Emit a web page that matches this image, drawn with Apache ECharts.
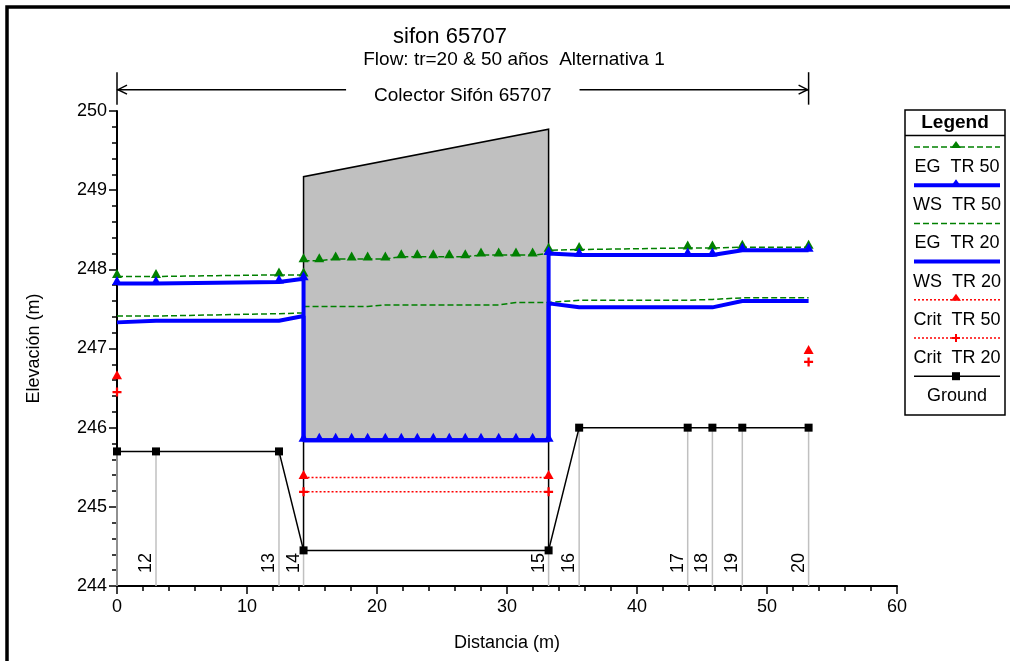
<!DOCTYPE html>
<html lang="es">
<head>
<meta charset="UTF-8">
<title>sifon 65707</title>
<style>
  html, body { margin: 0; padding: 0; background: #fff; }
  #main { width: 1010px; height: 661px; }
</style>
</head>
<body>
<div id="main"></div>
<script src="https://cdn.jsdelivr.net/npm/echarts@6/dist/echarts.min.js"></script>
<script>
// estaciones del perfil (m) y rótulos
const stations = [0, 3.0, 12.46, 14.35, 33.2, 35.55, 43.9, 45.8, 48.1, 53.2];
const stationLabels = ['', '12', '13', '14', '15', '16', '17', '18', '19', '20'];
const groundY = [245.70, 245.70, 245.70, 244.45, 244.45, 246.00, 246.00, 246.00, 246.00, 246.00];

// tramos: aguas arriba, sifón, aguas abajo
const upX = [0, 3.0, 12.46, 14.35];
const culvertX = [14.35, 15.56, 16.82, 18.05, 19.28, 20.64, 21.87, 23.10, 24.33, 25.56, 26.79, 28.0, 29.36, 30.69, 31.97, 33.2];
const downX = [33.2, 35.55, 43.9, 45.8, 48.1, 53.2];

const eg50Up = [247.91, 247.91, 247.93, 247.93];
const eg50Culvert = [248.11, 248.11, 248.13, 248.13, 248.13, 248.13, 248.16, 248.16, 248.16, 248.16, 248.16, 248.18, 248.18, 248.18, 248.18, 248.20];
const eg50Down = [248.24, 248.25, 248.27, 248.27, 248.28, 248.28];

const ws50Up = [247.82, 247.82, 247.84, 247.88];
const ws50Culvert = [245.84, 245.84, 245.84, 245.84, 245.84, 245.84, 245.84, 245.84, 245.84, 245.84, 245.84, 245.84, 245.84, 245.84, 245.84, 245.84];
const ws50Down = [248.20, 248.18, 248.18, 248.18, 248.24, 248.24];

const eg20Up = [247.41, 247.41, 247.44, 247.45];
const eg20Culvert = [247.53, 247.53, 247.53, 247.53, 247.53, 247.55, 247.55, 247.55, 247.55, 247.55, 247.55, 247.55, 247.55, 247.58, 247.58, 247.58];
const eg20Down = [247.60, 247.61, 247.61, 247.62, 247.64, 247.64];

const ws20Up = [247.33, 247.35, 247.35, 247.41];
const ws20Culvert = [245.84, 245.84, 245.84, 245.84, 245.84, 245.84, 245.84, 245.84, 245.84, 245.84, 245.84, 245.84, 245.84, 245.84, 245.84, 245.84];
const ws20Down = [247.57, 247.52, 247.52, 247.52, 247.60, 247.60];

const critX = [0, 14.35, 33.2, 53.2];
const crit50 = [246.63, 245.37, 245.37, 246.95];
const crit20 = [246.45, 245.19, 245.19, 246.83];

// estructura del sifón
const structX = [14.35, 14.35, 33.2, 33.2];
const structY = [244.45, 249.17, 249.77, 244.45];
const deckBottom = 245.84;

// cota de la línea de acotación
const dimSpan = [0, 53.2];
const dimY = 250.27;
const dimTick = [250.49, 250.08];
const dimLabel = 'Colector Sifón 65707';

const FONT = '"Liberation Sans", Arial, sans-serif';
const BREAK = ['-', '-'];

function pts(xs, ys) {
    return xs.map((x, i) => [x, ys[i]]);
}

const st = {
    eg50: { name: 'EG  TR 50', color: '#008000', width: 1.5, type: [6, 3], symbol: 'triangle' },
    ws50: { name: 'WS  TR 50', color: '#0000ff', width: 4, type: 'solid', symbol: 'triangle' },
    eg20: { name: 'EG  TR 20', color: '#008000', width: 1.5, type: [6, 3], symbol: null },
    ws20: { name: 'WS  TR 20', color: '#0000ff', width: 4, type: 'solid', symbol: null },
    crit50: { name: 'Crit  TR 50', color: '#ff0000', width: 1.5, type: [2, 2], symbol: 'triangle' },
    crit20: { name: 'Crit  TR 20', color: '#ff0000', width: 1.5, type: [2, 2], symbol: 'plus' },
    ground: { name: 'Ground', color: '#000000', width: 1.5, type: 'solid', symbol: 'square' }
};

const PLUS = 'path://M3,0H5V3H8V5H5V8H3V5H0V3H3Z';

function lineSeries(s, data, z) {
    let symbol = 'none', size = 8, offset = [0, 0];
    if (s.symbol === 'triangle') { symbol = 'triangle'; size = [10, 9]; offset = [0, -3]; }
    if (s.symbol === 'plus') { symbol = PLUS; size = 9; }
    if (s.symbol === 'square') { symbol = 'rect'; size = 8; }
    return {
        name: s.name,
        type: 'line',
        data: data,
        z: z,
        clip: false,
        connectNulls: false,
        symbol: symbol,
        symbolSize: size,
        symbolOffset: offset,
        showSymbol: symbol !== 'none',
        showAllSymbol: true,
        itemStyle: { color: s.color },
        lineStyle: { color: s.color, width: s.width, type: s.type },
        animation: false
    };
}

let chart = echarts.init(document.getElementById('main'));

const measure = document.createElement('canvas').getContext('2d');
measure.font = '19px ' + FONT;
const dimTextW = measure.measureText(dimLabel).width;

// leyenda dibujada a mano (muestra arriba, rótulo abajo)
const legendOrder = ['eg50', 'ws50', 'eg20', 'ws20', 'crit50', 'crit20', 'ground'];
const legendChildren = [
    { type: 'rect', shape: { x: 905, y: 110, width: 100, height: 305 }, style: { fill: '#fff', stroke: '#000', lineWidth: 1.5 } },
    { type: 'line', shape: { x1: 905, y1: 135.5, x2: 1005, y2: 135.5 }, style: { stroke: '#000', lineWidth: 1.5 } },
    { type: 'text', x: 955, y: 123, style: { text: 'Legend', font: 'bold 19px ' + FONT, fill: '#000', align: 'center', verticalAlign: 'middle' } }
];
legendOrder.forEach((k, i) => {
    const s = st[k];
    const ly = 147 + 38.2 * i;
    const ty = 167 + 38.2 * i;
    legendChildren.push({
        type: 'line', shape: { x1: 914, y1: ly, x2: 1000, y2: ly },
        style: { stroke: s.color, lineWidth: s.width, lineDash: Array.isArray(s.type) ? s.type : null }
    });
    if (s.symbol === 'triangle') {
        legendChildren.push({ type: 'polygon', shape: { points: [[956, ly - 6], [951, ly + 1], [961, ly + 1]] }, style: { fill: s.color } });
    } else if (s.symbol === 'plus') {
        legendChildren.push({ type: 'rect', shape: { x: 955, y: ly - 4, width: 2, height: 8 }, style: { fill: s.color } });
        legendChildren.push({ type: 'rect', shape: { x: 952, y: ly - 1, width: 8, height: 2 }, style: { fill: s.color } });
    } else if (s.symbol === 'square') {
        legendChildren.push({ type: 'rect', shape: { x: 952, y: ly - 4, width: 8, height: 8 }, style: { fill: s.color } });
    }
    legendChildren.push({
        type: 'text', x: 957, y: ty,
        style: { text: s.name, font: '18px ' + FONT, fill: '#000', align: 'center', verticalAlign: 'middle' }
    });
});

let option = {
    backgroundColor: '#fff',
    animation: false,
    grid: { left: 117, right: 113, top: 111, bottom: 75 },
    xAxis: {
        type: 'value', min: 0, max: 60, interval: 10,
        name: 'Distancia (m)', nameLocation: 'middle', nameGap: 48,
        nameTextStyle: { color: '#000', fontSize: 18, fontFamily: FONT },
        axisLine: { onZero: false, lineStyle: { color: '#000', width: 2 } },
        axisTick: { length: 8, lineStyle: { color: '#000', width: 1.5 } },
        minorTick: { show: true, splitNumber: 5, length: 5, lineStyle: { color: '#000', width: 1.5 } },
        splitLine: { show: false },
        axisLabel: { color: '#000', fontSize: 18, fontFamily: FONT, margin: 12 }
    },
    yAxis: {
        type: 'value', min: 244, max: 250, interval: 1,
        name: 'Elevación (m)', nameLocation: 'middle', nameGap: 74,
        nameTextStyle: { color: '#000', fontSize: 18, fontFamily: FONT },
        axisLine: { show: true, onZero: false, lineStyle: { color: '#000', width: 2 } },
        axisTick: { show: true, length: 8, lineStyle: { color: '#000', width: 1.5 } },
        minorTick: { show: true, splitNumber: 5, length: 5, lineStyle: { color: '#000', width: 1.5 } },
        splitLine: { show: false },
        axisLabel: { color: '#000', fontSize: 18, fontFamily: FONT, margin: 10 }
    },
    graphic: [
        { type: 'rect', shape: { x: 7, y: 7, width: 1200, height: 1000 }, style: { fill: 'none', stroke: '#000', lineWidth: 3.5 }, z: 100 },
        { type: 'text', x: 450, y: 37, style: { text: 'sifon 65707', font: '22px ' + FONT, fill: '#000', align: 'center', verticalAlign: 'middle' } },
        { type: 'text', x: 514, y: 60, style: { text: 'Flow: tr=20 & 50 años  Alternativa 1', font: '19px ' + FONT, fill: '#000', align: 'center', verticalAlign: 'middle' } },
        { type: 'group', children: legendChildren }
    ],
    series: [
        {
            // sifón (relleno gris y contorno)
            type: 'custom', z: 1, animation: false,
            data: [[structX[0], structY[0]]],
            renderItem: function (params, api) {
                const fill = [[structX[0], deckBottom], [structX[1], structY[1]], [structX[2], structY[2]], [structX[3], deckBottom]].map(p => api.coord(p));
                const edge = structX.map((x, i) => api.coord([x, structY[i]]));
                return {
                    type: 'group', children: [
                        { type: 'polygon', shape: { points: fill }, style: { fill: '#c0c0c0' } },
                        { type: 'polyline', shape: { points: edge }, style: { stroke: '#000', lineWidth: 1.5, fill: null } }
                    ]
                };
            }
        },
        {
            // líneas de estación y sus rótulos
            type: 'custom', z: 2, animation: false,
            data: pts(stations, groundY),
            renderItem: function (params, api) {
                const x = api.value(0), y = api.value(1);
                const top = api.coord([x, y]);
                const bot = api.coord([x, 244]);
                const lab = api.coord([x, 244.29]);
                return {
                    type: 'group', children: [
                        { type: 'line', shape: { x1: top[0], y1: top[1], x2: bot[0], y2: bot[1] }, style: { stroke: '#c0c0c0', lineWidth: 1.5 } },
                        {
                            type: 'text', x: lab[0] - 1, y: lab[1], rotation: Math.PI / 2,
                            style: { text: stationLabels[params.dataIndex], font: '18px ' + FONT, fill: '#000', align: 'center', verticalAlign: 'bottom' }
                        }
                    ]
                };
            }
        },
        {
            // acotación del colector
            type: 'custom', z: 3, animation: false, clip: false,
            data: [[dimSpan[0], dimY]],
            renderItem: function (params, api) {
                const a = api.coord([dimSpan[0], dimY]);
                const b = api.coord([dimSpan[1], dimY]);
                const ta = api.coord([dimSpan[0], dimTick[0]]);
                const tb = api.coord([dimSpan[0], dimTick[1]]);
                const mid = (a[0] + b[0]) / 2;
                const gap = dimTextW / 2 + 28;
                const ls = { stroke: '#000', lineWidth: 1.5 };
                return {
                    type: 'group', children: [
                        { type: 'line', shape: { x1: a[0], y1: ta[1], x2: a[0], y2: tb[1] }, style: ls },
                        { type: 'line', shape: { x1: b[0], y1: ta[1], x2: b[0], y2: tb[1] }, style: ls },
                        { type: 'line', shape: { x1: a[0], y1: a[1], x2: mid - gap, y2: a[1] }, style: ls },
                        { type: 'line', shape: { x1: mid + gap, y1: b[1], x2: b[0], y2: b[1] }, style: ls },
                        { type: 'polyline', shape: { points: [[a[0] + 10, a[1] - 4.5], [a[0] + 1, a[1]], [a[0] + 10, a[1] + 4.5]] }, style: { stroke: '#000', lineWidth: 1.5, fill: null } },
                        { type: 'polyline', shape: { points: [[b[0] - 10, b[1] - 4.5], [b[0] - 1, b[1]], [b[0] - 10, b[1] + 4.5]] }, style: { stroke: '#000', lineWidth: 1.5, fill: null } },
                        { type: 'text', x: mid, y: a[1] + 6, style: { text: dimLabel, font: '19px ' + FONT, fill: '#000', align: 'center', verticalAlign: 'middle' } }
                    ]
                };
            }
        },
        lineSeries(st.ground, pts(stations, groundY), 4),
        lineSeries(st.crit20, [].concat([[critX[0], crit20[0]], BREAK], pts(critX.slice(1, 3), crit20.slice(1, 3)), [BREAK, [critX[3], crit20[3]]]), 5),
        lineSeries(st.crit50, [].concat([[critX[0], crit50[0]], BREAK], pts(critX.slice(1, 3), crit50.slice(1, 3)), [BREAK, [critX[3], crit50[3]]]), 5),
        lineSeries(st.eg20, [].concat(pts(upX, eg20Up), [BREAK], pts(culvertX, eg20Culvert), pts(downX, eg20Down)), 6),
        lineSeries(st.ws20, [].concat(pts(upX, ws20Up), pts(culvertX, ws20Culvert), pts(downX, ws20Down)), 7),
        lineSeries(st.eg50, [].concat(pts(upX, eg50Up), [BREAK], pts(culvertX, eg50Culvert), pts(downX, eg50Down)), 8),
        lineSeries(st.ws50, [].concat(pts(upX, ws50Up), pts(culvertX, ws50Culvert), pts(downX, ws50Down)), 9)
    ]
};
chart.setOption(option);
</script>
</body>
</html>
